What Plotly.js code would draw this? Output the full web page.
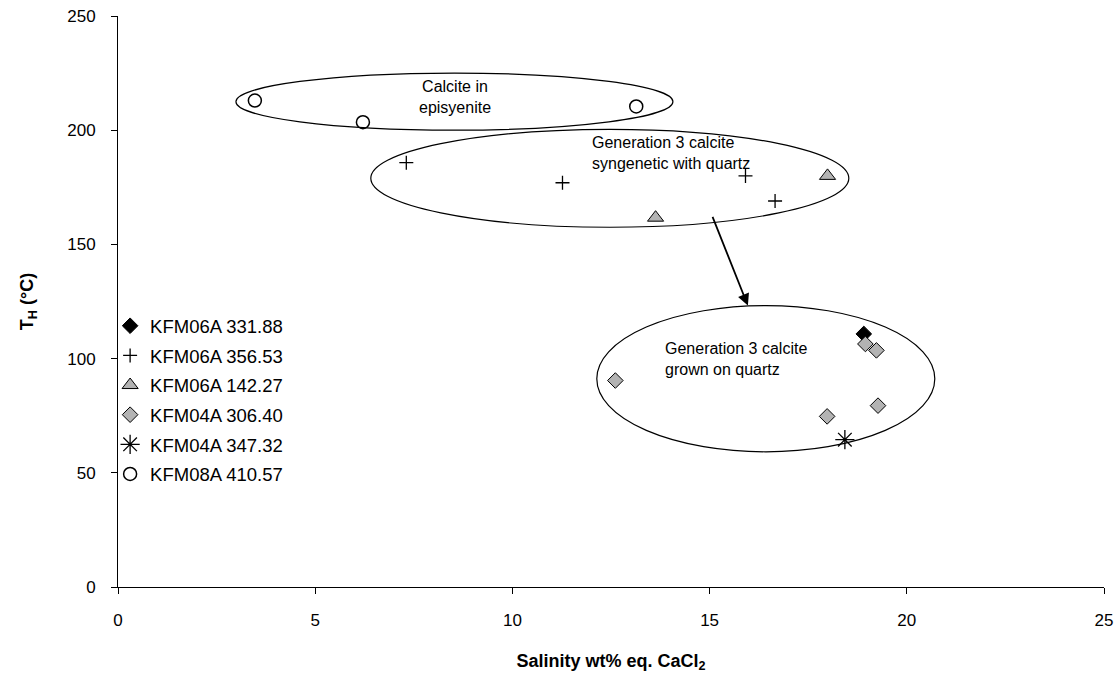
<!DOCTYPE html>
<html><head><meta charset="utf-8">
<script src="https://cdn.plot.ly/plotly-3.0.1.min.js"></script>
<style>body{margin:0;background:#fff}#c{width:1115px;height:678px}</style>
</head><body><div id="c"></div>
<script>
// Data (salinity wt% eq. CaCl2, homogenisation temperature °C)
const kfm06a_331_x = [18.91];
const kfm06a_331_y = [110.8];
const kfm06a_356_x = [7.31, 11.27, 15.91, 16.66];
const kfm06a_356_y = [185.8, 177.0, 180.0, 169.0];
const kfm06a_142_x = [13.63, 17.99];
const kfm06a_142_y = [161.7, 180.0];
const kfm04a_306_x = [12.61, 18.95, 19.23, 17.98, 19.27];
const kfm04a_306_y = [90.4, 106.4, 103.6, 74.7, 79.4];
const kfm04a_347_x = [18.43];
const kfm04a_347_y = [64.5];
const kfm08a_410_x = [3.47, 6.21, 13.14];
const kfm08a_410_y = [213.0, 203.5, 210.4];
const seriesNames = ["KFM06A 331.88","KFM06A 356.53","KFM06A 142.27","KFM04A 306.40","KFM04A 347.32","KFM08A 410.57"];
// Group outlines (ellipses) in data units: [x0, x1, y0, y1]
const groupEpisyenite = [2.99, 14.07, 200.0, 225.0];
const groupSyngenetic = [6.41, 18.53, 157.5, 200.4];
const groupGrown = [12.14, 20.71, 59.2, 123.2];
const arrowTail = [15.06, 162.7];
const arrowHead = [15.97, 123.2];

const FONT = "Arial, 'Liberation Sans', sans-serif";
const gray = "#b3b3b3";
function tr(x, y, name, g, marker){
  return {x:x, y:y, name:name, type:"scatter", mode:"markers", legendgroup:g, marker:marker, hoverinfo:"x+y"};
}
const data = [
  tr(kfm06a_331_x, kfm06a_331_y, seriesNames[0], "a", {symbol:"diamond", size:12, color:"#000", line:{color:"#000", width:1}}),
  tr(kfm06a_356_x, kfm06a_356_y, seriesNames[1], "b", {symbol:"cross-thin-open", size:10, color:"#000", line:{color:"#000", width:1.3}}),
  tr(kfm06a_142_x, kfm06a_142_y, seriesNames[2], "c", {symbol:"triangle-up", size:14, color:gray, line:{color:"#000", width:1}}),
  tr(kfm04a_306_x, kfm04a_306_y, seriesNames[3], "d", {symbol:"diamond", size:12, color:gray, line:{color:"#000", width:1}}),
  tr(kfm04a_347_x, kfm04a_347_y, seriesNames[4], "e", {symbol:"asterisk-open", size:16, color:"#000", line:{color:"#000", width:1.3}}),
  tr(kfm08a_410_x, kfm08a_410_y, seriesNames[5], "f", {symbol:"circle-open", size:13, color:"#000", line:{color:"#000", width:1.5}})
];
function ell(b){
  return {type:"circle", xref:"x", yref:"y", x0:b[0], x1:b[1], y0:b[2], y1:b[3], line:{color:"#000", width:1.2}, layer:"below"};
}
const layout = {
  width:1115, height:678,
  margin:{l:118, r:11, t:16, b:91},
  paper_bgcolor:"#fff", plot_bgcolor:"#fff",
  font:{family:FONT, color:"#000", size:17},
  showlegend:true,
  legend:{x:-0.008, y:0.49, xanchor:"left", yanchor:"top", font:{size:18.5, family:FONT}, tracegroupgap:2.6, bgcolor:"rgba(0,0,0,0)"},
  xaxis:{range:[0,25], dtick:5, tick0:0, showgrid:false, zeroline:false, showline:true, linecolor:"#000", linewidth:1,
    ticks:"outside", ticklen:6, tickcolor:"#000", ticklabelstandoff:12, tickfont:{size:17},
    title:{text:"Salinity wt% eq. CaCl<sub>2</sub>", font:{size:18, family:FONT, weight:"bold"}, standoff:24}},
  yaxis:{range:[0,250], dtick:50, tick0:0, showgrid:false, zeroline:false, showline:true, linecolor:"#000", linewidth:1,
    ticks:"outside", ticklen:6, tickcolor:"#000", ticklabelstandoff:12, tickfont:{size:17},
    title:{text:"T<sub>H</sub> (°C)", font:{size:18, family:FONT, weight:"bold"}, standoff:28}},
  shapes:[ell(groupEpisyenite), ell(groupSyngenetic), ell(groupGrown)],
  annotations:[
    {x:8.54, y:214.4, xref:"x", yref:"y", text:"Calcite in<br>episyenite", showarrow:false, align:"center", font:{size:16, family:FONT}},
    {x:11.96, y:190.0, xref:"x", yref:"y", xanchor:"left", text:"Generation 3 calcite<br>syngenetic with quartz", showarrow:false, align:"left", font:{size:16, family:FONT}},
    {x:13.82, y:100.0, xref:"x", yref:"y", xanchor:"left", text:"Generation 3 calcite<br>grown on quartz", showarrow:false, align:"left", font:{size:16, family:FONT}},
    {x:arrowHead[0], y:arrowHead[1], ax:arrowTail[0], ay:arrowTail[1], xref:"x", yref:"y", axref:"x", ayref:"y", text:"", showarrow:true, arrowhead:2, arrowsize:1.3, arrowwidth:1.8, arrowcolor:"#000"}
  ]
};
Plotly.newPlot("c", data, layout, {displayModeBar:false, staticPlot:true});
</script></body></html>
